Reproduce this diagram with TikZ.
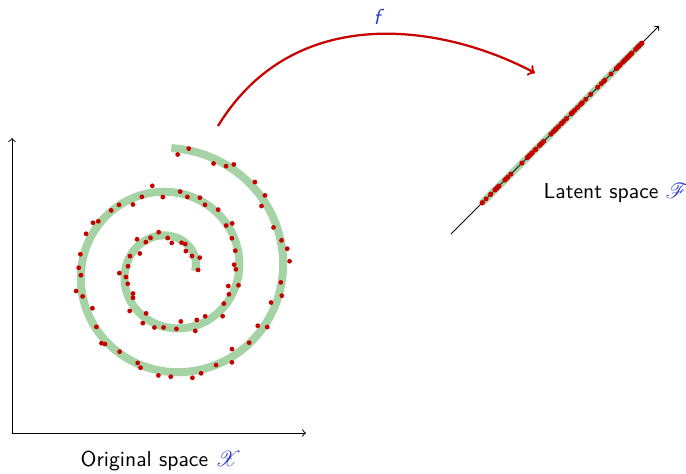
\documentclass[tikz,border=0pt]{standalone}
\usepackage{amsmath}
\usepackage{amssymb}
\usepackage{mathrsfs}
\usepackage{tikz}
\usetikzlibrary{arrows}
\usetikzlibrary{calc}
\usetikzlibrary{positioning}

\definecolor{spgreen}{RGB}{166,211,166}
\definecolor{dotred}{RGB}{200,0,0}
\definecolor{labblue}{RGB}{40,60,200}

\begin{document}
\begin{tikzpicture}[x=0.49pt,y=-0.49pt,font=\sffamily,
		axis/.style={->,black,line width=0.45pt},
		mapto/.style={->,dotred,line width=1.1pt},
		lab/.style={scale=1.06},
		dot/.style={fill=dotred}]
	\useasboundingbox (0,0) rectangle (686,473);
	% original space
	\coordinate (O) at (12,433);
	\coordinate (Ox) at (306,433);
	\coordinate (Oy) at (12,138);
	\draw[axis] (O) -- (Ox);
	\draw[axis] (O) -- (Oy);
	\draw[spgreen,line width=8*0.49pt] plot[domain=0:4.5*pi,samples=200]
		({171+(24+7*\x)*cos(\x r)},{271-(24+7*\x)*sin(\x r)});
	\pgfmathsetseed{3}
	\foreach \i in {1,...,92}{
		\pgfmathsetmacro{\u}{(\i-0.5+0.45*rand)/92}
		\pgfmathsetmacro{\t}{4.5*pi*(\u)^0.85}
		\pgfmathsetmacro{\q}{24+7*\t+7*rand}
		\fill[dot] ({171+\q*cos(\t r)},{271-\q*sin(\t r)}) circle (2.4);
	}
	\node[lab] (o) at (161,461) {Original space \textcolor{labblue}{$\mathscr{X}$}};
	% latent space
	\coordinate (L0) at (451,234);
	\coordinate (L1) at (659,26);
	\coordinate (La) at (482,203);
	\coordinate (Lb) at (642,43);
	\draw[spgreen,line width=7*0.49pt] (La) -- (Lb);
	\draw[axis] (L0) -- (L1);
	\foreach \i in {1,...,75}{
		\pgfmathsetmacro{\s}{rnd}
		\fill[dot] ($(La)!\s!(Lb)$) circle (2.5);
	}
	\fill[dot] (La) circle (2.5);
	\fill[dot] (Lb) circle (2.5);
	\node[lab,anchor=west] (l) at (536,193) {Latent space \textcolor{labblue}{$\mathscr{F}$}};
	% the map
	\coordinate (m0) at (218,126);
	\coordinate (m1) at (535,73);
	\draw[mapto] (m0) .. controls (295,0) and (445,25) .. (m1);
	\node[lab,labblue] (f) at (379,17) {\textit{f}};
\end{tikzpicture}
\end{document}
